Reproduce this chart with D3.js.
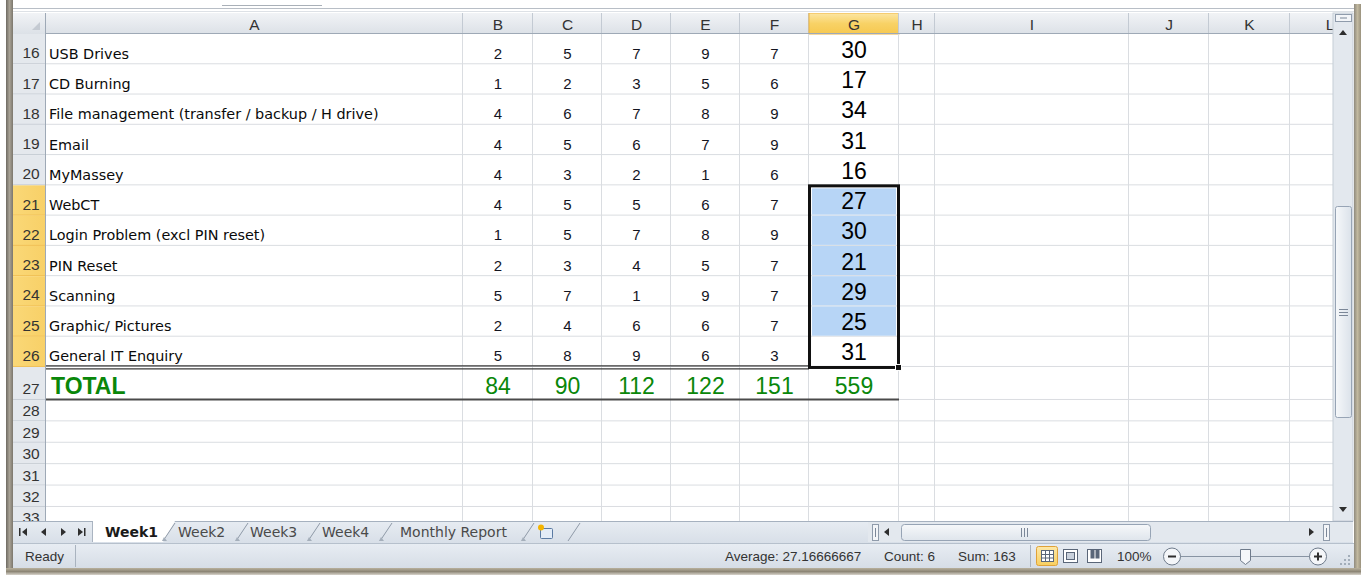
<!doctype html>
<html>
<head>
<meta charset="utf-8" />
<script src="https://cdnjs.cloudflare.com/ajax/libs/d3/7.8.5/d3.min.js"></script>
<style>
  body{
    margin: 0;
    background: #ffffff;
    overflow: hidden;
  }
  .cellA{ font-family: "DejaVu Sans", sans-serif; font-size: 14.4px; fill: #0a0a0a; }
  .cellN{ font-family: "Liberation Sans", Arial, sans-serif; font-size: 15px; fill: #14141f; }
  .cellG{ font-family: "Liberation Sans", Arial, sans-serif; font-size: 23px; fill: #000000; }
  .total{ font-family: "Liberation Sans", Arial, sans-serif; font-size: 23px; fill: #0a870a; }
  .hdr{ font-family: "Liberation Sans", Arial, sans-serif; font-size: 15.5px; fill: #333333; }
  .tab{ font-family: "DejaVu Sans", sans-serif; font-size: 14px; fill: #4a4a4a; }
  .status{ font-family: "Liberation Sans", Arial, sans-serif; font-size: 13.5px; fill: #333333; }
</style>
</head>
<body>
<div id="sheet"></div>
<script>
// ---- data ----
var rowNumbers = [16, 17, 18, 19, 20, 21, 22, 23, 24, 25, 26];
var categories = ["USB Drives", "CD Burning", "File management (transfer / backup / H drive)",
  "Email", "MyMassey", "WebCT", "Login Problem (excl PIN reset)", "PIN Reset",
  "Scanning", "Graphic/ Pictures", "General IT Enquiry"];
var valuesB = [2, 1, 4, 4, 4, 4, 1, 2, 5, 2, 5];
var valuesC = [5, 2, 6, 5, 3, 5, 5, 3, 7, 4, 8];
var valuesD = [7, 3, 7, 6, 2, 5, 7, 4, 1, 6, 9];
var valuesE = [9, 5, 8, 7, 1, 6, 8, 5, 9, 6, 6];
var valuesF = [7, 6, 9, 9, 6, 7, 9, 7, 7, 7, 3];
var rowTotals = [30, 17, 34, 31, 16, 27, 30, 21, 29, 25, 31];
var totalRow = 27;
var totalLabel = "TOTAL";
var colTotals = [84, 90, 112, 122, 151, 559];
var emptyRows = [28, 29, 30, 31, 32, 33];
var columnLetters = ["A", "B", "C", "D", "E", "F", "G", "H", "I", "J", "K", "L"];
var selectedRows = [21, 22, 23, 24, 25, 26];
var selectedCol = "G";
var sheetTabs = ["Week1", "Week2", "Week3", "Week4", "Monthly Report"];
var statusReady = "Ready";
var statusItems = ["Average: 27.16666667", "Count: 6", "Sum: 163"];
var zoomLabel = "100%";

// ---- layout ----
var W = 1367, H = 576;
var gridLeft = 46, gridRight = 1333, headTop = 13, headBottom = 34, gridBottom = 521;
var colWidths = [417, 70, 69, 69, 69, 69, 90, 36, 194, 80, 81, 80];
var colEdges = [gridLeft].concat(Array.from(d3.cumsum(colWidths), function(v){ return gridLeft + v; }));
colEdges.pop();
var x = d3.scaleOrdinal().domain(columnLetters).range(colEdges);
var colW = d3.scaleOrdinal().domain(columnLetters).range(colWidths);

var allRows = rowNumbers.concat([totalRow], emptyRows);
var rowHeights = allRows.map(function(r){ return r <= 26 ? 30.27 : (r === totalRow ? 33 : 21.4); });
var rowEdges = [headBottom].concat(Array.from(d3.cumsum(rowHeights), function(v){ return headBottom + v; }));
rowEdges.pop();
var y = d3.scaleOrdinal().domain(allRows).range(rowEdges);
var rowH = d3.scaleOrdinal().domain(allRows).range(rowHeights);

var svg = d3.select("#sheet").append("svg")
  .attr("width", W).attr("height", H);

var defs = svg.append("defs");
function grad(id, stops, horiz){
  var g = defs.append("linearGradient").attr("id", id)
    .attr("x1", 0).attr("y1", 0).attr("x2", horiz ? 1 : 0).attr("y2", horiz ? 0 : 1);
  stops.forEach(function(s, i){
    g.append("stop").attr("offset", (i / (stops.length - 1) * 100) + "%").attr("stop-color", s);
  });
}
grad("hdrGrad", ["#f1f3f6", "#dce1e7"]);
grad("selGrad", ["#fce6a4", "#f8d266", "#f6c850"]);
grad("rowSelGrad", ["#fad877", "#f8d067"], true);
grad("barGrad", ["#e7ecf2", "#d8dfe8"]);
grad("statusGrad", ["#e8edf3", "#d6dde6"]);
grad("thumbGrad", ["#f6f8fa", "#dfe5ec"]);
grad("vthumbGrad", ["#f6f8fa", "#dbe2ea"], true);
grad("frameL", ["#6e6a62", "#a8a295", "#7c776d"], true);
grad("frameR", ["#8f8a7e", "#c1b89f", "#9a927e"], true);
grad("frameB", ["#b9b19d", "#8d8676", "#d8d4cc"]);
grad("btnGrad", ["#fde8a8", "#f8cf5f"]);

var clip = defs.append("clipPath").attr("id", "gridClip");
clip.append("rect").attr("x", 13).attr("y", headTop).attr("width", gridRight - 13).attr("height", gridBottom - headTop);

// ---- window chrome at the top ----
svg.append("line").attr("x1", 222).attr("x2", 322).attr("y1", 5.5).attr("y2", 5.5).attr("stroke", "#a9b0b8");
svg.append("line").attr("x1", 12).attr("x2", 1355).attr("y1", 8.5).attr("y2", 8.5).attr("stroke", "#b8bec6");
svg.append("line").attr("x1", 12).attr("x2", 1355).attr("y1", 11.5).attr("y2", 11.5).attr("stroke", "#dde1e6");

var grid = svg.append("g").attr("clip-path", "url(#gridClip)");

// column headers
var colHead = grid.selectAll("g.colhead").data(columnLetters).enter().append("g").attr("class", "colhead");
colHead.append("rect")
  .attr("x", function(d){ return x(d); })
  .attr("y", headTop)
  .attr("width", function(d){ return colW(d); })
  .attr("height", headBottom - headTop)
  .attr("fill", function(d){ return d === selectedCol ? "url(#selGrad)" : "url(#hdrGrad)"; })
  .attr("stroke", function(d){ return d === selectedCol ? "#eeb443" : "none"; });
colHead.append("line")
  .attr("x1", function(d){ return x(d) + colW(d) - 0.5; })
  .attr("x2", function(d){ return x(d) + colW(d) - 0.5; })
  .attr("y1", headTop).attr("y2", headBottom)
  .attr("stroke", "#c3cad3");
colHead.append("text").attr("class", "hdr")
  .attr("x", function(d){ return x(d) + colW(d) / 2; })
  .attr("y", 29.5)
  .attr("text-anchor", "middle")
  .text(function(d){ return d; });
grid.append("line").attr("x1", 13).attr("x2", gridRight).attr("y1", headBottom - 0.5).attr("y2", headBottom - 0.5).attr("stroke", "#9ea9b6");

// select-all corner
grid.append("rect").attr("x", 13).attr("y", headTop).attr("width", gridLeft - 13).attr("height", headBottom - headTop)
  .attr("fill", "url(#hdrGrad)");
grid.append("path").attr("d", "M40,22 L40,30 L32,30 Z").attr("fill", "#c4cad2");

// row headers
var rowHead = grid.selectAll("g.rowhead").data(allRows).enter().append("g").attr("class", "rowhead");
rowHead.append("rect")
  .attr("x", 13).attr("y", function(d){ return y(d); })
  .attr("width", gridLeft - 13).attr("height", function(d){ return rowH(d); })
  .attr("fill", function(d){ return selectedRows.indexOf(d) >= 0 ? "url(#rowSelGrad)" : "#e4e8ed"; });
rowHead.append("line")
  .attr("x1", 13).attr("x2", gridLeft)
  .attr("y1", function(d){ return y(d) + rowH(d) - 0.5; })
  .attr("y2", function(d){ return y(d) + rowH(d) - 0.5; })
  .attr("stroke", function(d){ return selectedRows.indexOf(d) >= 0 ? "#f0bf55" : "#c6ccd4"; });
rowHead.append("text").attr("class", "hdr")
  .attr("x", 31)
  .attr("y", function(d){ return y(d) + rowH(d) - (d <= totalRow ? 6 : 5); })
  .attr("text-anchor", "middle")
  .text(function(d){ return d; });
grid.append("line").attr("x1", gridLeft - 0.5).attr("x2", gridLeft - 0.5).attr("y1", headTop).attr("y2", gridBottom).attr("stroke", "#9ea9b6");

// gridlines
grid.selectAll("line.vgrid").data(columnLetters).enter().append("line").attr("class", "vgrid")
  .attr("x1", function(d){ return x(d) + colW(d) - 0.5; })
  .attr("x2", function(d){ return x(d) + colW(d) - 0.5; })
  .attr("y1", headBottom).attr("y2", gridBottom)
  .attr("stroke", "#dadde1");
grid.selectAll("line.hgrid").data(allRows).enter().append("line").attr("class", "hgrid")
  .attr("x1", gridLeft).attr("x2", gridRight)
  .attr("y1", function(d){ return y(d) + rowH(d) - 0.5; })
  .attr("y2", function(d){ return y(d) + rowH(d) - 0.5; })
  .attr("stroke", "#dadde1");

// selection fill (G21:G25, active cell G26 stays white)
var selFill = selectedRows.slice(0, -1);
grid.selectAll("rect.selfill").data(selFill).enter().append("rect").attr("class", "selfill")
  .attr("x", x(selectedCol) + 3)
  .attr("y", function(d, i){ return y(d) + (i === 0 ? 3 : 0); })
  .attr("width", colW(selectedCol) - 6)
  .attr("height", function(d, i){ return rowH(d) - (i === 0 ? 3 : 0) - 1; })
  .attr("fill", "#b7d5f6");

// cell values
var dataRows = rowNumbers.map(function(r, i){
  return { row: r, label: categories[i],
    nums: [valuesB[i], valuesC[i], valuesD[i], valuesE[i], valuesF[i]], total: rowTotals[i] };
});
var numCols = ["B", "C", "D", "E", "F"];
var rowG = grid.selectAll("g.datarow").data(dataRows).enter().append("g").attr("class", "datarow")
  .attr("transform", function(d){ return "translate(0," + (y(d.row) + rowH(d.row) - 5.5) + ")"; });
rowG.append("text").attr("class", "cellA")
  .attr("x", x("A") + 3)
  .text(function(d){ return d.label; });
rowG.selectAll("text.cellN").data(function(d){ return d.nums; }).enter().append("text").attr("class", "cellN")
  .attr("x", function(d, i){ return x(numCols[i]) + colW(numCols[i]) / 2; })
  .attr("text-anchor", "middle")
  .text(function(d){ return d; });
rowG.append("text").attr("class", "cellG")
  .attr("x", x("G") + colW("G") / 2)
  .attr("y", -1)
  .attr("text-anchor", "middle")
  .text(function(d){ return d.total; });

// total row
var totalY = y(totalRow) + rowH(totalRow) - 6;
grid.append("text").attr("class", "total")
  .attr("x", x("A") + 5).attr("y", totalY)
  .attr("font-weight", "bold")
  .text(totalLabel);
var totalCols = ["B", "C", "D", "E", "F", "G"];
grid.selectAll("text.coltotal").data(colTotals).enter().append("text").attr("class", "total coltotal")
  .attr("x", function(d, i){ return x(totalCols[i]) + colW(totalCols[i]) / 2; })
  .attr("y", totalY)
  .attr("text-anchor", "middle")
  .text(function(d){ return d; });

// borders: double line under row 26, line under row 27
var b26 = y(totalRow);
[b26 - 1, b26 + 2].forEach(function(yy){
  grid.append("line").attr("x1", gridLeft).attr("x2", x("G")).attr("y1", yy).attr("y2", yy)
    .attr("stroke", "#3a3a3a").attr("stroke-width", 1.2);
});
var b27 = y(totalRow) + rowH(totalRow);
grid.append("line").attr("x1", gridLeft).attr("x2", x("H")).attr("y1", b27 - 0.5).attr("y2", b27 - 0.5)
  .attr("stroke", "#4a4a4a").attr("stroke-width", 2);

// selection border + fill handle
var selTop = y(selectedRows[0]);
var selBot = y(totalRow);
grid.append("rect")
  .attr("x", x(selectedCol) + 0.5).attr("y", selTop + 0.5)
  .attr("width", colW(selectedCol) - 1).attr("height", selBot - selTop)
  .attr("fill", "none").attr("stroke", "#111111").attr("stroke-width", 3);
grid.append("rect")
  .attr("x", x(selectedCol) + colW(selectedCol) - 3.5).attr("y", selBot - 2.5)
  .attr("width", 6).attr("height", 6)
  .attr("fill", "#111111").attr("stroke", "#ffffff").attr("stroke-width", 1);

// ---- vertical scrollbar ----
var vs = svg.append("g");
vs.append("rect").attr("x", gridRight).attr("y", headTop).attr("width", 20).attr("height", gridBottom - headTop)
  .attr("fill", "#e3e8ee").attr("stroke", "#c6cdd6");
vs.append("rect").attr("x", 1335.5).attr("y", 14.5).attr("width", 16).attr("height", 7).attr("fill", "#f3f5f8").attr("stroke", "#8f9bab");
vs.append("line").attr("x1", 1340).attr("x2", 1347).attr("y1", 18).attr("y2", 18).attr("stroke", "#7b8798");
vs.append("path").attr("d", "M1339,35 L1347,35 L1343,30 Z").attr("fill", "#2e2e2e");
vs.append("path").attr("d", "M1339,507 L1347,507 L1343,512 Z").attr("fill", "#2e2e2e");
vs.append("rect").attr("x", 1335.5).attr("y", 206.5).attr("width", 16).attr("height", 211).attr("rx", 2)
  .attr("fill", "url(#vthumbGrad)").attr("stroke", "#97a4b5");
[309, 312, 315].forEach(function(yy){
  vs.append("line").attr("x1", 1339).attr("x2", 1348).attr("y1", yy + 0.5).attr("y2", yy + 0.5).attr("stroke", "#7b8798");
});

// ---- sheet tab bar ----
var tb = svg.append("g");
tb.append("rect").attr("x", 13).attr("y", gridBottom).attr("width", gridRight + 20 - 13).attr("height", 22)
  .attr("fill", "url(#barGrad)");
tb.append("line").attr("x1", 13).attr("x2", gridRight + 20).attr("y1", gridBottom + 0.5).attr("y2", gridBottom + 0.5).attr("stroke", "#a6b1bf");
// nav arrows
tb.append("rect").attr("x", 19).attr("y", 528).attr("width", 1.5).attr("height", 8).attr("fill", "#2e2e2e");
tb.append("path").attr("d", "M27,528 L27,536 L22,532 Z").attr("fill", "#2e2e2e");
tb.append("path").attr("d", "M46,528 L46,536 L41,532 Z").attr("fill", "#2e2e2e");
tb.append("path").attr("d", "M61,528 L61,536 L66,532 Z").attr("fill", "#2e2e2e");
tb.append("path").attr("d", "M78,528 L78,536 L83,532 Z").attr("fill", "#2e2e2e");
tb.append("rect").attr("x", 84).attr("y", 528).attr("width", 1.5).attr("height", 8).attr("fill", "#2e2e2e");
tb.append("line").attr("x1", 92.5).attr("x2", 92.5).attr("y1", 522).attr("y2", 542).attr("stroke", "#aab4c1");

var tabX = [105, 178, 250, 322, 400];
var tabEnd = [163, 236, 308, 380, 522];
// active tab
tb.append("path").attr("d", "M93," + gridBottom + " L" + (tabEnd[0] + 12) + "," + gridBottom + " L" + tabEnd[0] + ",542 L93,542 Z")
  .attr("fill", "#ffffff");
tb.selectAll("line.tabsep").data(tabEnd.concat([568])).enter().append("line").attr("class", "tabsep")
  .attr("x1", function(d){ return d; }).attr("x2", function(d){ return d + 12; })
  .attr("y1", 541).attr("y2", 523)
  .attr("stroke", "#8f9aa8");
tb.selectAll("path.tabcorner").data(tabEnd).enter().append("path").attr("class", "tabcorner")
  .attr("d", function(d){ return "M" + (d - 1) + ",541 L" + (d + 4) + ",541 L" + (d + 1) + ",537 Z"; })
  .attr("fill", "#a5afbb");
tb.selectAll("text.tab").data(sheetTabs).enter().append("text").attr("class", "tab")
  .attr("x", function(d, i){ return tabX[i]; })
  .attr("y", 537)
  .attr("font-weight", function(d, i){ return i === 0 ? "bold" : "normal"; })
  .style("fill", function(d, i){ return i === 0 ? "#1a1a1a" : "#4a4a4a"; })
  .text(function(d){ return d; });
// insert-sheet icon
tb.append("rect").attr("x", 540.5).attr("y", 528.5).attr("width", 12).attr("height", 10).attr("rx", 1)
  .attr("fill", "#e3ecf7").attr("stroke", "#5b7ba3");
tb.append("circle").attr("cx", 541).attr("cy", 527.5).attr("r", 3).attr("fill", "#f4b400");

// horizontal scrollbar
tb.append("rect").attr("x", 868).attr("y", 522).attr("width", gridRight + 20 - 868).attr("height", 20).attr("fill", "#e3e8ee");
tb.append("rect").attr("x", 872.5).attr("y", 524.5).attr("width", 6).attr("height", 16).attr("fill", "#f3f5f8").attr("stroke", "#8f9bab");
tb.append("line").attr("x1", 875.5).attr("x2", 875.5).attr("y1", 528).attr("y2", 537).attr("stroke", "#7b8798");
tb.append("path").attr("d", "M889,528 L889,536 L884,532 Z").attr("fill", "#2e2e2e");
tb.append("rect").attr("x", 901.5).attr("y", 524.5).attr("width", 249).attr("height", 16).attr("rx", 3)
  .attr("fill", "url(#thumbGrad)").attr("stroke", "#97a4b5");
[1021, 1024, 1027].forEach(function(xx){
  tb.append("line").attr("x1", xx + 0.5).attr("x2", xx + 0.5).attr("y1", 528).attr("y2", 537).attr("stroke", "#7b8798");
});
tb.append("path").attr("d", "M1309,528 L1309,536 L1314,532 Z").attr("fill", "#2e2e2e");
tb.append("rect").attr("x", 1323.5).attr("y", 524.5).attr("width", 6).attr("height", 16).attr("fill", "#f3f5f8").attr("stroke", "#8f9bab");
tb.append("line").attr("x1", 1326.5).attr("x2", 1326.5).attr("y1", 528).attr("y2", 537).attr("stroke", "#7b8798");

// ---- status bar ----
var sb = svg.append("g");
sb.append("rect").attr("x", 13).attr("y", 543).attr("width", 1341).attr("height", 25).attr("fill", "url(#statusGrad)");
sb.append("line").attr("x1", 13).attr("x2", 1354).attr("y1", 543.5).attr("y2", 543.5).attr("stroke", "#b6c0cc");
sb.append("text").attr("class", "status").attr("x", 25).attr("y", 561).text(statusReady);
sb.append("line").attr("x1", 75.5).attr("x2", 75.5).attr("y1", 545).attr("y2", 567).attr("stroke", "#a9b3bf");
var statusX = [725, 884, 958];
sb.selectAll("text.stat").data(statusItems).enter().append("text").attr("class", "status stat")
  .attr("x", function(d, i){ return statusX[i]; })
  .attr("y", 561)
  .text(function(d){ return d; });
sb.append("line").attr("x1", 1030.5).attr("x2", 1030.5).attr("y1", 545).attr("y2", 567).attr("stroke", "#a9b3bf");
// view buttons
sb.append("rect").attr("x", 1036.5).attr("y", 546.5).attr("width", 21).attr("height", 19).attr("rx", 2)
  .attr("fill", "url(#btnGrad)").attr("stroke", "#e0a238");
sb.append("rect").attr("x", 1041.5).attr("y", 550.5).attr("width", 12).attr("height", 11).attr("fill", "#ffffff").attr("stroke", "#5a6678");
[1045.5, 1049.5].forEach(function(xx){
  sb.append("line").attr("x1", xx).attr("x2", xx).attr("y1", 551).attr("y2", 561).attr("stroke", "#5a6678");
});
[554.5, 558].forEach(function(yy){
  sb.append("line").attr("x1", 1042).attr("x2", 1053).attr("y1", yy).attr("y2", yy).attr("stroke", "#5a6678");
});
sb.append("rect").attr("x", 1063.5).attr("y", 549.5).attr("width", 14).attr("height", 13).attr("fill", "#ffffff").attr("stroke", "#5a6678");
sb.append("rect").attr("x", 1066.5).attr("y", 552.5).attr("width", 8).attr("height", 7).attr("fill", "#c9d1dc").attr("stroke", "#5a6678");
sb.append("rect").attr("x", 1087.5).attr("y", 549.5).attr("width", 14).attr("height", 13).attr("fill", "#ffffff").attr("stroke", "#5a6678");
sb.append("rect").attr("x", 1090.5).attr("y", 549.5).attr("width", 4).attr("height", 9).attr("fill", "#5a6678");
sb.append("rect").attr("x", 1095.5).attr("y", 549.5).attr("width", 4).attr("height", 9).attr("fill", "#5a6678");
sb.append("text").attr("class", "status").attr("x", 1117).attr("y", 561).text(zoomLabel);
// zoom slider
sb.append("line").attr("x1", 1180).attr("x2", 1310).attr("y1", 556.5).attr("y2", 556.5).attr("stroke", "#8894a3");
sb.append("line").attr("x1", 1245.5).attr("x2", 1245.5).attr("y1", 552).attr("y2", 561).attr("stroke", "#8894a3");
[1172, 1318].forEach(function(cx, i){
  sb.append("circle").attr("cx", cx).attr("cy", 556.5).attr("r", 8.5).attr("fill", "#f4f6f9").attr("stroke", "#6f7b8b");
  sb.append("line").attr("x1", cx - 4).attr("x2", cx + 4).attr("y1", 556.5).attr("y2", 556.5).attr("stroke", "#2e2e2e").attr("stroke-width", 2);
  if (i === 1) {
    sb.append("line").attr("x1", cx).attr("x2", cx).attr("y1", 552.5).attr("y2", 560.5).attr("stroke", "#2e2e2e").attr("stroke-width", 2);
  }
});
sb.append("path").attr("d", "M1240.5,549.5 L1250.5,549.5 L1250.5,560.5 L1245.5,564.5 L1240.5,560.5 Z")
  .attr("fill", "#f5f7fa").attr("stroke", "#6f7b8b");
// resize grip
[[1348, 555], [1344, 559], [1348, 559], [1340, 563], [1344, 563], [1348, 563]].forEach(function(p){
  sb.append("rect").attr("x", p[0]).attr("y", p[1]).attr("width", 2).attr("height", 2).attr("fill", "#a2adb9");
});

// ---- window frame ----
svg.append("rect").attr("x", 6).attr("y", 0).attr("width", 7).attr("height", 575).attr("fill", "url(#frameL)");
svg.append("rect").attr("x", 1354).attr("y", 4).attr("width", 7).attr("height", 571).attr("fill", "url(#frameR)");
svg.append("rect").attr("x", 6).attr("y", 568).attr("width", 1355).attr("height", 7).attr("fill", "url(#frameB)");
</script>
</body>
</html>
